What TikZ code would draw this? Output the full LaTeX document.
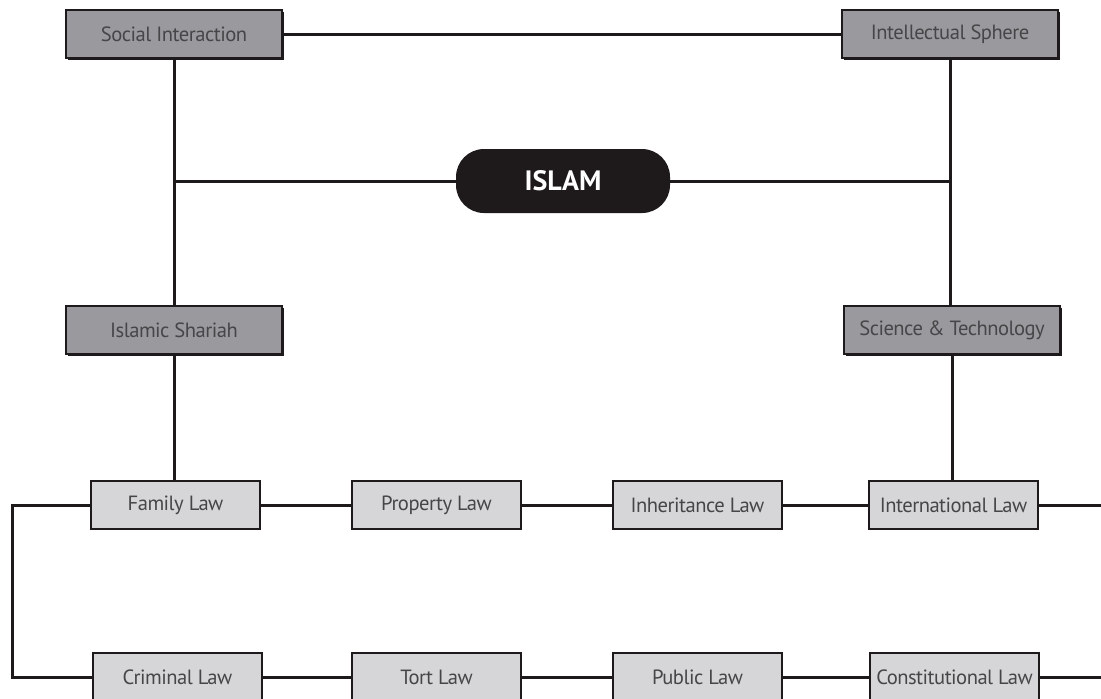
\documentclass[tikz,border=0pt]{standalone}
\usepackage{fontspec}
\setmainfont{PT Sans}
\newfontfamily\boxfont[LetterSpace=-2.5]{PT Sans}
\usepackage{tikz}
\usepackage{xcolor}
\definecolor{sphere}{RGB}{154, 154, 158}
\definecolor{lawgray}{RGB}{214, 214, 216}
\definecolor{inkgray}{RGB}{70, 70, 72}
\definecolor{islamblack}{RGB}{30, 26, 28}
\usetikzlibrary{shadows}
\tikzset{
  sphere/.style={draw=islamblack, line width=1pt, fill=sphere, text=inkgray,
    minimum width=108pt, minimum height=24pt, inner sep=0pt, font=\boxfont\fontsize{10.3}{12}\selectfont,
    drop shadow={shadow xshift=0.8pt, shadow yshift=-1pt, fill=islamblack, opacity=1}},
  law/.style={draw=islamblack, line width=0.9pt, fill=lawgray, text=inkgray,
    minimum width=84.5pt, minimum height=24pt, inner sep=0pt, font=\boxfont\fontsize{10.3}{12}\selectfont},
  link/.style={islamblack, line width=1.5pt}
}
\begin{document}
\begin{tikzpicture}[x=0.5pt, y=-0.5pt]
        \useasboundingbox (0,0) rectangle (1101,698);
        \clip (0,0) rectangle (1101,698);

        % Draw the centre
        \node[fill=islamblack, text=white, rounded corners=14pt, minimum width=107pt, minimum height=32pt,
              font=\fontsize{14}{16}\selectfont\bfseries] (islam) at (563,181) {ISLAM};

        % Draw the four spheres
        \node[sphere] (social) at (174,34) {Social Interaction};
        \node[sphere] (intel) at (950,34) {Intellectual Sphere};
        \node[sphere] (shariah) at (174,330) {Islamic Shariah};
        \node[sphere] (science) at (952,330) {Science \& Technology};

        % Draw the laws, two rows
        \node[law] (family) at (175.5,505) {Family Law};
        \node[law] (property) at (436.5,505) {Property Law};
        \node[law] (inherit) at (697.5,505) {Inheritance Law};
        \node[law] (intl) at (953.5,505) {International Law};
        \node[law] (criminal) at (177.5,677) {Criminal Law};
        \node[law] (tort) at (436.5,677) {Tort Law};
        \node[law] (public) at (697.5,677) {Public Law};
        \node[law] (constit) at (954.5,677) {Constitutional Law};

        % Free ends of the lines
        \coordinate (jointL) at (social.south |- islam.west);
        \coordinate (jointR) at (intel.south |- islam.east);
        \coordinate (loopL) at (12,505);
        \coordinate (endA) at (1101,505);
        \coordinate (endB) at (1101,677);

        % Draw the frame
        \draw[link] (social.east) -- (intel.west);
        \draw[link] (social.south) -- (shariah.north);
        \draw[link] (intel.south) -- (intel.south |- science.north);
        \draw[link] (islam.west) -- (jointL);
        \draw[link] (islam.east) -- (jointR);
        \draw[link] (shariah.south) -- (shariah.south |- family.north);
        \draw[link] (science.south) -- (science.south |- intl.north);

        % Chain the laws
        \draw[link] (family.east) -- (property.west);
        \draw[link] (property.east) -- (inherit.west);
        \draw[link] (inherit.east) -- (intl.west);
        \draw[link] (intl.east) -- (endA);
        \draw[link] (family.west) -- (loopL) |- (criminal.west);
        \draw[link] (criminal.east) -- (tort.west);
        \draw[link] (tort.east) -- (public.west);
        \draw[link] (public.east) -- (constit.west);
        \draw[link] (constit.east) -- (endB);
    \end{tikzpicture}
\end{document}
